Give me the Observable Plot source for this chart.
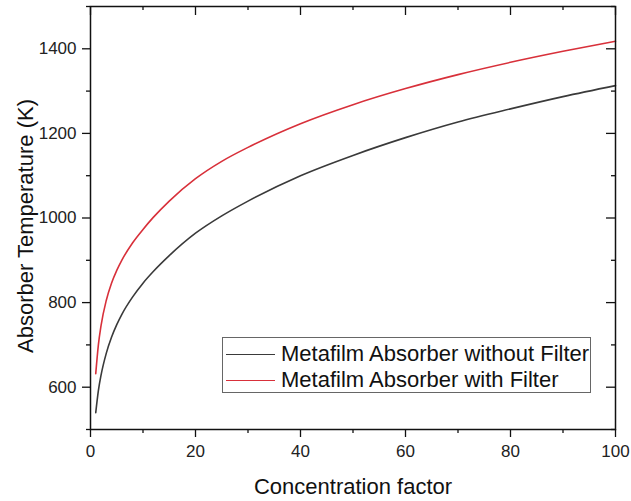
<!DOCTYPE html>
<html>
<head>
<meta charset="utf-8">
<script src="https://cdn.jsdelivr.net/npm/d3@7"></script>
<script src="https://cdn.jsdelivr.net/npm/@observablehq/plot@0.6"></script>
<style>
  html, body { margin: 0; padding: 0; background: #fff; }
  #wrap { position: relative; width: 631px; height: 501px; }
  #legend {
    position: absolute; left: 222px; top: 337px; width: 369px; height: 56px;
    border: 1px solid #666; background: #fff; box-sizing: border-box;
    font-family: "Liberation Sans", Arial, sans-serif; font-size: 22px; color: #111;
  }
  .row { position: absolute; left: 0; height: 26px; display: flex; align-items: center; white-space: nowrap; }
  .sw { display: inline-block; width: 49px; height: 0; border-top: 1.6px solid; margin-left: 3px; margin-right: 6px; }
</style>
</head>
<body>
<div id="wrap"></div>
<script>
// Data
const concentration = [1, 1.5, 2, 3, 4, 5, 6, 8, 10, 12, 15, 20, 25, 30, 40, 50, 60, 70, 80, 90, 100];
const tempWithoutFilter = [540, 592, 628, 680, 718, 748, 773, 813, 846, 874, 911, 964, 1005, 1040, 1100, 1148, 1190, 1227, 1258, 1287, 1313];
const tempWithFilter = [632, 700, 745, 805, 846, 876, 901, 941, 973, 1002, 1040, 1093, 1134, 1167, 1223, 1268, 1306, 1339, 1368, 1394, 1418];
const seriesNames = ["Metafilm Absorber without Filter", "Metafilm Absorber with Filter"];
const seriesColors = ["#3a3a3a", "#d8303a"];

const xMajor = [0, 20, 40, 60, 80, 100];
const xMinor = [10, 30, 50, 70, 90];
const yMajor = [600, 800, 1000, 1200, 1400];
const yMinor = [500, 700, 900, 1100, 1300, 1500];

const rows = [];
concentration.forEach((c, i) => {
  rows.push({c, t: tempWithoutFilter[i], s: seriesNames[0]});
  rows.push({c, t: tempWithFilter[i], s: seriesNames[1]});
});

const W = 631, H = 501, mL = 90, mR = 16, mT = 6, mB = 72;
const pw = W - mL - mR, ph = H - mT - mB;
const fmt = d => String(d);

const chart = Plot.plot({
  width: W, height: H,
  marginLeft: mL, marginRight: mR, marginTop: mT, marginBottom: mB,
  style: {fontFamily: "'Liberation Sans', Arial, sans-serif", fontSize: "17px", color: "#222", background: "#fff"},
  x: {domain: [0, 100]},
  y: {domain: [500, 1500]},
  color: {domain: seriesNames, range: seriesColors},
  marks: [
    Plot.line(rows, {x: "c", y: "t", stroke: "s", z: "s", strokeWidth: 1.6, curve: "monotone-x"}),
    Plot.frame({stroke: "#111", strokeWidth: 1.5}),
    Plot.axisX({ticks: xMajor, tickSize: 8, tickPadding: 7, tickFormat: fmt, label: null, stroke: "#111", strokeWidth: 1.3}),
    Plot.axisX({ticks: xMinor, tickSize: 4, tickFormat: () => "", label: null, stroke: "#111", strokeWidth: 1.3}),
    Plot.axisY({ticks: yMajor, tickSize: 8, tickPadding: 6, tickFormat: fmt, label: null, stroke: "#111", strokeWidth: 1.3}),
    Plot.axisY({ticks: yMinor, tickSize: 4, tickFormat: () => "", label: null, stroke: "#111", strokeWidth: 1.3}),
    // inward mirror ticks on top and right
    Plot.ruleX(xMajor, {x: d => d, insetBottom: ph - 9, stroke: "#111", strokeWidth: 1.3}),
    Plot.ruleX(xMinor, {x: d => d, insetBottom: ph - 4, stroke: "#111", strokeWidth: 1.3}),
    Plot.ruleY(yMajor, {y: d => d, insetLeft: pw - 9, stroke: "#111", strokeWidth: 1.3}),
    Plot.ruleY(yMinor, {y: d => d, insetLeft: pw - 4, stroke: "#111", strokeWidth: 1.3}),
    Plot.text(["Concentration factor"], {frameAnchor: "bottom", dy: 64, lineAnchor: "bottom", textAnchor: "middle", fontSize: 22, fill: "#111"}),
    Plot.text(["Absorber Temperature (K)"], {frameAnchor: "left", dx: -58, dy: 8, rotate: -90, lineAnchor: "bottom", textAnchor: "middle", fontSize: 22, fill: "#111"})
  ]
});

const wrap = document.getElementById("wrap");
wrap.appendChild(chart);

const legend = document.createElement("div");
legend.id = "legend";
seriesNames.forEach((name, i) => {
  const row = document.createElement("div");
  row.className = "row";
  row.style.top = (i === 0 ? 3 : 29) + "px";
  const sw = document.createElement("span");
  sw.className = "sw";
  sw.style.borderTopColor = seriesColors[i];
  const tx = document.createElement("span");
  tx.textContent = name;
  row.appendChild(sw);
  row.appendChild(tx);
  legend.appendChild(row);
});
wrap.appendChild(legend);
</script>
</body>
</html>
